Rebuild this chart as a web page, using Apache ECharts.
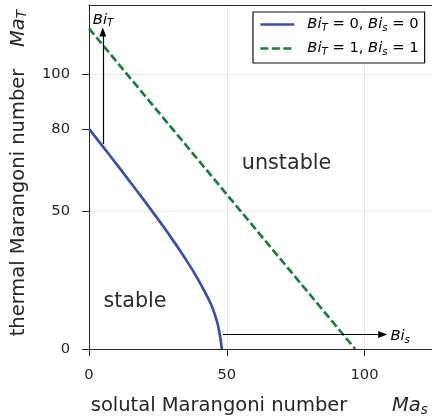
<!DOCTYPE html>
<html><head><meta charset="utf-8">
<script src="https://cdn.jsdelivr.net/npm/echarts@6/dist/echarts.min.js"></script>
<style>html,body{margin:0;padding:0;background:#fff}#c{width:432px;height:417px}</style>
</head><body><div id="c"></div>
<script>
// ---- data ----
const blueX = [0, 5, 10, 15, 20, 23.5, 27, 30, 33, 36, 39, 41.5, 44.4, 46, 46.8, 47.5, 47.9, 48.2];
const blueY = [80, 73.6, 67.2, 60.6, 54.0, 49.3, 44.5, 40.2, 35.8, 31.2, 26.3, 21.8, 16.0, 11.5, 8.7, 5.0, 2.5, 0];
const greenX = [0, 96.6];
const greenY = [116.5, 0];
const xTickValues = [0, 50, 100];
const yTickValues = [0, 50, 80, 100];
const arrowBiT = [[5.0, 74.5], [5.0, 115.2]];
const arrowBis = [[48.6, 5.3], [106.6, 5.3]];
const noteCenter = [{ name: 'unstable', x: 71.7, y: 67.2 }, { name: 'stable', x: 16.7, y: 17.1 }];
const noteLeft = [{ name: 'BiT', x: 1.4, y: 119.5 }, { name: 'Bis', x: 109.4, y: 4.6 }];
const seriesNames = ['A', 'B'];

const FONT = 'DejaVu Sans';
const INK = '#262626';
const BLUE = '#3a4fa8';
const GREEN = '#1a7d38';
const GRIDC = '#e8e8e8';
const LW = 2.7;

const pairs = (xs, ys) => xs.map((x, i) => [x, ys[i]]);
const subRich = {
  it: { fontFamily: FONT, fontStyle: 'italic', fontSize: 14.7, color: '#000', lineHeight: 17 },
  it0: { fontFamily: FONT, fontStyle: 'italic', fontSize: 14.7, color: '#000', lineHeight: 17, padding: [0, 0, 0, 8] },
  sub: { fontFamily: FONT, fontStyle: 'italic', fontSize: 10.3, color: '#000', lineHeight: 8, verticalAlign: 'bottom' },
  n: { fontFamily: FONT, fontSize: 14.7, color: '#000', lineHeight: 17 }
};
const legendText = {
  A: '{it0|Bi}{sub|T}{n| = 0, }{it|Bi}{sub|s}{n| = 0}',
  B: '{it0|Bi}{sub|T}{n| = 1, }{it|Bi}{sub|s}{n| = 1}'
};
const noteText = { unstable: 'unstable', stable: 'stable', BiT: '{it|Bi}{sub|T}', Bis: '{it|Bi}{sub|s}' };

const axisBase = {
  type: 'value',
  axisLine: { show: true, lineStyle: { color: INK, width: 1 } },
  axisTick: { show: true, length: 7, lineStyle: { color: INK, width: 1 } }
};

const chart = echarts.init(document.getElementById('c'), null, { renderer: 'canvas' });
chart.setOption({
  animation: false,
  backgroundColor: '#fff',
  grid: { left: 89, top: 5, right: 0, bottom: 68, show: false },
  xAxis: [Object.assign({}, axisBase, {
    min: 0, max: 124.5, position: 'bottom',
    axisTick: { show: true, length: 7, customValues: xTickValues, lineStyle: { color: INK, width: 1 } },
    axisLabel: { customValues: xTickValues, margin: 19, fontFamily: FONT, fontSize: 14.7, color: INK },
    splitLine: { show: true, lineStyle: { color: GRIDC, width: 1 } }
  }), {
    type: 'value', min: 0, max: 124.5, position: 'top',
    axisLine: { show: true, onZero: false, lineStyle: { color: INK, width: 1 } },
    axisTick: { show: false }, axisLabel: { show: false }, splitLine: { show: false }
  }],
  yAxis: [Object.assign({}, axisBase, {
    min: 0, max: 125,
    axisTick: { show: true, length: 7, customValues: yTickValues, lineStyle: { color: INK, width: 1 } },
    axisLabel: { customValues: yTickValues, margin: 19, fontFamily: FONT, fontSize: 14.7, color: INK },
    splitLine: { show: false }
  }), {
    type: 'value', min: 0, max: 125, interval: 50, position: 'right',
    axisLine: { show: false }, axisTick: { show: false }, axisLabel: { show: false },
    splitLine: { show: true, lineStyle: { color: GRIDC, width: 1 } }
  }],
  legend: {
    data: seriesNames, orient: 'vertical', left: 253, top: 12,
    itemWidth: 34, itemHeight: 14, itemGap: 8,
    padding: [5, 6, 6, 6],
    backgroundColor: '#fff', borderColor: '#111', borderWidth: 1.2, borderRadius: 0,
    itemStyle: { color: 'rgba(0,0,0,0)', borderWidth: 0, opacity: 0 },
    lineStyle: { width: LW },
    formatter: n => legendText[n],
    textStyle: { rich: subRich }
  },
  series: [{
    name: 'A', type: 'line', data: pairs(blueX, blueY), symbol: 'none', smooth: 0.3,
    lineStyle: { color: BLUE, width: LW }, itemStyle: { color: BLUE }, z: 3
  }, {
    name: 'B', type: 'line', data: pairs(greenX, greenY), symbol: 'none',
    lineStyle: { color: GREEN, width: LW, type: [8, 3.5] }, itemStyle: { color: GREEN }, z: 3
  }, {
    name: 'arrows', type: 'line', data: [], symbol: 'none', silent: true,
    markLine: {
      silent: true, symbol: ['none', 'triangle'], symbolSize: [7, 9],
      label: { show: false },
      lineStyle: { color: '#000', width: 1.2, type: 'solid' },
      data: [
        [{ coord: arrowBiT[0] }, { coord: arrowBiT[1] }],
        [{ coord: arrowBis[0] }, { coord: arrowBis[1] }]
      ]
    }
  }, {
    name: 'notesC', type: 'scatter', symbolSize: 0, silent: true, itemStyle: { opacity: 1 },
    data: noteCenter.map(d => ({ name: d.name, value: [d.x, d.y] })),
    label: { show: true, position: 'inside', formatter: p => noteText[p.name], fontFamily: FONT, fontSize: 20.7, color: '#2b2b2b', opacity: 1 }
  }, {
    name: 'notesL', type: 'scatter', symbolSize: 0, silent: true, itemStyle: { opacity: 1 },
    data: noteLeft.map(d => ({ name: d.name, value: [d.x, d.y] })),
    label: { show: true, position: 'right', distance: 0, formatter: p => noteText[p.name], rich: subRich, opacity: 1 }
  }],
  graphic: [
    { type: 'text', x: 219, y: 406, style: { text: 'solutal Marangoni number', fontFamily: FONT, fontSize: 19.5, fill: INK, align: 'center', verticalAlign: 'middle' } },
    { type: 'text', x: 392, y: 406, style: { text: '{m|Ma}{s|s}', fill: INK, verticalAlign: 'middle', rich: {
      m: { fontFamily: FONT, fontStyle: 'italic', fontSize: 19.5, fill: INK, lineHeight: 22 },
      s: { fontFamily: FONT, fontStyle: 'italic', fontSize: 13.6, fill: INK, lineHeight: 10, verticalAlign: 'bottom' } } } },
    { type: 'text', x: 18.6, y: 202.5, rotation: Math.PI / 2, style: { text: 'thermal Marangoni number', fontFamily: FONT, fontSize: 19.5, fill: INK, align: 'center', verticalAlign: 'middle' } },
    { type: 'text', x: 18.6, y: 47, rotation: Math.PI / 2, style: { text: '{m|Ma}{s|T}', fill: INK, align: 'left', verticalAlign: 'middle', rich: {
      m: { fontFamily: FONT, fontStyle: 'italic', fontSize: 19.5, fill: INK, lineHeight: 22 },
      s: { fontFamily: FONT, fontStyle: 'italic', fontSize: 13.6, fill: INK, lineHeight: 10, verticalAlign: 'bottom' } } } }
  ]
});
</script></body></html>
